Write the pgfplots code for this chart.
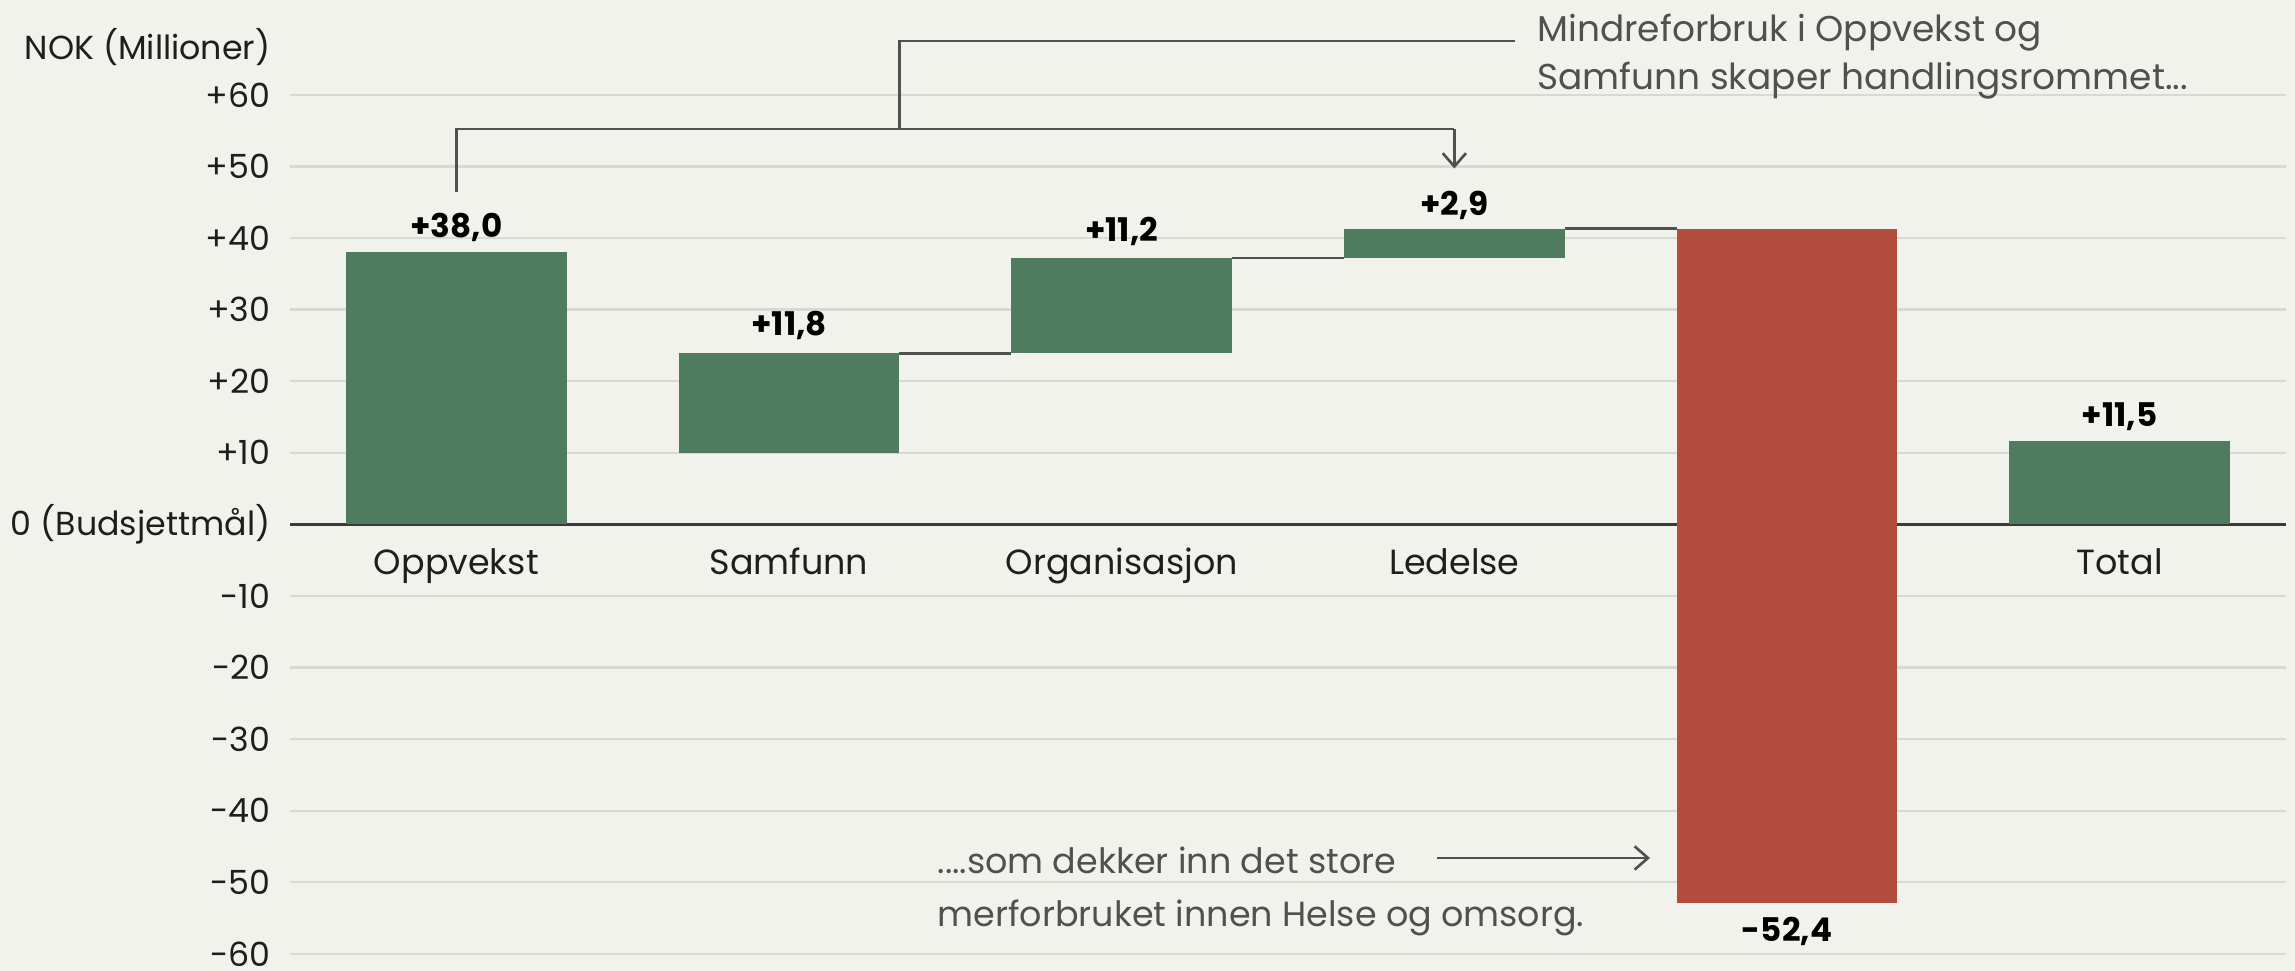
\documentclass[border=0pt]{standalone}
\usepackage{fontspec}
\setmainfont{Poppins}
\usepackage{pgfplots}
\pgfplotsset{compat=1.18}
\usetikzlibrary{arrows.meta}

\definecolor{bg}{HTML}{F2F2EC}
\definecolor{barGreen}{HTML}{4F7C5F}
\definecolor{barRed}{HTML}{B34E3F}
\definecolor{gridc}{HTML}{D9D9D3}
\definecolor{annot}{HTML}{505050}
\definecolor{zeroc}{HTML}{3A3A3A}
\definecolor{txt}{HTML}{1E1E1E}

\begin{document}
\begin{tikzpicture}
\fill[bg] (-87.2pt,-5.1pt) rectangle (602.8pt,286.8pt);

\begin{axis}[
  at={(0pt,0pt)}, anchor=south west,
  scale only axis, width=600.1pt, height=258.3pt,
  xmin=-0.5, xmax=5.5, ymin=-60, ymax=60, clip=false,
  axis x line=middle, axis y line=left,
  x axis line style={-, draw=zeroc, line width=0.9pt},
  y axis line style={draw=none},
  hide obscured x ticks=false, hide obscured y ticks=false,
  major tick length=0pt,
  ytick={-60,-50,...,60},
  yticklabels={-60,-50,-40,-30,-20,-10,0 (Budsjettmål),+10,+20,+30,+40,+50,+60},
  yticklabel style={anchor=east, inner sep=0pt, xshift=-5.7pt, text=txt, font=\fontsize{10}{12}\selectfont},
  xtick={0,...,5},
  xticklabels={Oppvekst,Samfunn,Organisasjon,Ledelse,,Total},
  xticklabel style={anchor=base, inner sep=0pt, yshift=-15pt, text=txt, font=\fontsize{10.5}{12}\selectfont},
  ymajorgrids, grid style={gridc, line width=0.7pt},
]
% waterfall bars (half width 0.332): start and end of each step
\addplot[fill=barGreen, draw=none] coordinates {(-0.332,0) (0.332,0) (0.332,38) (-0.332,38)} -- cycle;
\addplot[fill=barGreen, draw=none] coordinates {(0.668,10) (1.332,10) (1.332,23.9) (0.668,23.9)} -- cycle;
\addplot[fill=barGreen, draw=none] coordinates {(1.668,23.9) (2.332,23.9) (2.332,37.2) (1.668,37.2)} -- cycle;
\addplot[fill=barGreen, draw=none] coordinates {(2.668,37.2) (3.332,37.2) (3.332,41.3) (2.668,41.3)} -- cycle;
\addplot[fill=barRed, draw=none] coordinates {(3.668,41.3) (4.332,41.3) (4.332,-52.9) (3.668,-52.9)} -- cycle;
\addplot[fill=barGreen, draw=none] coordinates {(4.668,0) (5.332,0) (5.332,11.6) (4.668,11.6)} -- cycle;

% connectors
\addplot[annot, line width=0.8pt, no markers] coordinates {(1.332,23.9) (1.668,23.9)};
\addplot[annot, line width=0.8pt, no markers] coordinates {(2.332,37.2) (2.668,37.2)};
\addplot[annot, line width=0.8pt, no markers] coordinates {(3.332,41.3) (3.668,41.3)};

\begin{scope}[font=\bfseries\fontsize{9.8}{12}\selectfont, text=black]
\node at (axis cs:0,41.5) {+38,0};
\node at (axis cs:1,27.8) {+11,8};
\node at (axis cs:2,40.9) {+11,2};
\node at (axis cs:3,44.6) {+2,9};
\node at (axis cs:4,-56.8) {-52,4};
\node at (axis cs:5,15.1) {+11,5};
\end{scope}

\node[anchor=east, inner sep=0pt, text=txt, font=\fontsize{10}{12}\selectfont]
  at ([xshift=-5.7pt]axis cs:-0.5,66.6) {NOK (Millioner)};

\draw[annot, line width=0.8pt] (axis cs:0,46.4) |- (axis cs:3,55.2);
\draw[annot, line width=0.8pt, -{Straight Barb[length=4pt,width=7pt]}] (axis cs:3,55.2) -- (axis cs:3,49.7);
\draw[annot, line width=0.8pt] (axis cs:1.333,55.2) |- (axis cs:3.182,67.5);
\node[anchor=west, align=left, inner sep=0pt, text=annot, font=\fontsize{10.8}{14.5}\selectfont]
  at (axis cs:3.248,65.3) {Mindreforbruk i Oppvekst og\\Samfunn skaper handlingsrommet...};

\draw[annot, line width=0.8pt, -{Straight Barb[length=4pt,width=7pt]}] (axis cs:2.948,-46.6) -- (axis cs:3.588,-46.6);
\node[anchor=west, align=left, inner sep=0pt, text=annot, font=\fontsize{10.5}{15.8}\selectfont]
  at (axis cs:1.445,-51.3) {....som dekker inn det store\\merforbruket innen Helse og omsorg.};
\end{axis}

\pgfresetboundingbox
\useasboundingbox (-87.2pt,-5.1pt) rectangle (602.8pt,286.8pt);
\end{tikzpicture}
\end{document}
